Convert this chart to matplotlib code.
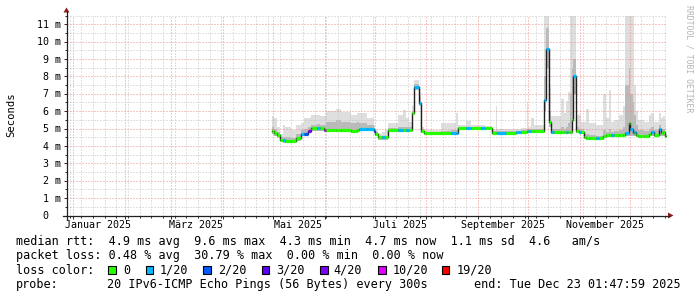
import numpy as np
import pandas as pd
import matplotlib
matplotlib.use("Agg")
import matplotlib.pyplot as plt
import matplotlib.dates as mdates
import matplotlib.transforms as mtrans
from matplotlib.ticker import MultipleLocator
from matplotlib.patches import Rectangle, Polygon
from matplotlib.lines import Line2D

# ---------------- data ----------------
dates = [
    "2025-04-30 10:00", "2025-05-01 19:00", "2025-05-03 10:00", "2025-05-05 10:00",
    "2025-05-06 19:00", "2025-05-08 10:00", "2025-05-11 19:00", "2025-05-14 19:00",
    "2025-05-17 19:00", "2025-05-19 14:00", "2025-05-21 19:00", "2025-05-23 19:00",
    "2025-05-24 02:00", "2025-05-24 14:00", "2025-05-27 10:00", "2025-05-29 05:00",
    "2025-05-31 19:00", "2025-06-01 19:00", "2025-06-07 19:00", "2025-06-10 19:00",
    "2025-06-16 19:00", "2025-06-20 10:00", "2025-06-21 19:00", "2025-06-26 10:00",
    "2025-06-30 19:00", "2025-07-01 10:00", "2025-07-02 19:00", "2025-07-05 10:00",
    "2025-07-07 05:00", "2025-07-09 05:00", "2025-07-15 00:00", "2025-07-18 00:00",
    "2025-07-19 19:00", "2025-07-21 14:00", "2025-07-23 05:00", "2025-07-24 10:00",
    "2025-07-27 19:00", "2025-07-28 19:00", "2025-07-30 14:00", "2025-08-09 19:00",
    "2025-08-15 19:00", "2025-08-18 19:00", "2025-08-20 05:00", "2025-08-24 19:00",
    "2025-08-27 19:00", "2025-09-02 19:00", "2025-09-05 05:00", "2025-09-09 05:00",
    "2025-09-11 12:00", "2025-09-12 10:00", "2025-09-17 19:00", "2025-09-23 19:00",
    "2025-09-26 19:00", "2025-09-30 10:00", "2025-10-01 00:00", "2025-10-02 19:00",
    "2025-10-04 14:00", "2025-10-10 10:00", "2025-10-11 19:00", "2025-10-13 19:00",
    "2025-10-14 19:00", "2025-10-16 14:00", "2025-10-20 19:00", "2025-10-22 14:00",
    "2025-10-23 19:00", "2025-10-25 00:00", "2025-10-25 22:00", "2025-10-27 10:00",
    "2025-10-28 05:00", "2025-10-29 19:00", "2025-10-31 14:00", "2025-11-01 19:00",
    "2025-11-03 10:00", "2025-11-04 19:00", "2025-11-06 14:00", "2025-11-10 19:00",
    "2025-11-12 14:00", "2025-11-14 19:00", "2025-11-16 19:00", "2025-11-18 07:00",
    "2025-11-19 19:00", "2025-11-21 14:00", "2025-11-24 14:00", "2025-11-27 00:00",
    "2025-11-28 05:00", "2025-11-30 10:00", "2025-12-01 10:00", "2025-12-02 19:00",
    "2025-12-03 19:00", "2025-12-04 19:00", "2025-12-06 00:00", "2025-12-09 14:00",
    "2025-12-12 19:00", "2025-12-13 19:00", "2025-12-15 10:00", "2025-12-18 19:00",
    "2025-12-19 19:00", "2025-12-20 19:00", "2025-12-22 05:00", "2025-12-23 01:47",
]
median_ms = [
    4.86, 4.76, 4.63, 4.34, 4.32, 4.30, 4.30, 4.47, 4.69, 4.69, 4.88, 5.01,
    5.01, 5.01, 5.01, 5.01, 4.90, 4.92, 4.92, 4.92, 4.88, 4.92, 5.00, 5.00,
    4.88, 4.70, 4.50, 4.50, 4.50, 4.90, 4.92, 4.92, 4.92, 4.92, 5.91, 7.37,
    6.49, 4.85, 4.73, 4.73, 4.73, 4.73, 5.01, 5.01, 5.01, 5.01, 5.01, 4.76,
    4.76, 4.76, 4.76, 4.80, 4.80, 4.85, 4.85, 4.88, 4.88, 6.64, 9.57, 5.39,
    4.78, 4.78, 4.78, 4.78, 4.78, 4.78, 4.78, 5.47, 8.02, 4.88, 4.82, 4.82,
    4.53, 4.47, 4.47, 4.47, 4.47, 4.60, 4.65, 4.65, 4.63, 4.63, 4.63, 4.63,
    4.73, 5.34, 5.00, 4.76, 4.82, 4.65, 4.60, 4.60, 4.70, 4.82, 4.65, 5.00,
    4.73, 4.82, 4.60, 4.60,
]
# lost pings out of 20 for each step
loss = [
    0, 0, 0, 0, 1, 0, 0, 0, 1, 2, 4, 0,
    0, 0, 1, 0, 10, 0, 0, 0, 0, 0, 1, 1,
    2, 0, 0, 1, 0, 0, 1, 0, 1, 0, 0, 1,
    1, 0, 0, 0, 1, 1, 0, 1, 0, 1, 0, 0,
    0, 1, 0, 1, 0, 0, 1, 0, 0, 1, 1, 0,
    1, 0, 0, 0, 1, 0, 0, 0, 1, 0, 1, 0,
    0, 0, 0, 1, 0, 0, 0, 0, 1, 0, 0, 0,
    1, 0, 1, 0, 1, 0, 0, 0, 0, 1, 0, 1,
    0, 0, 0, 0,
]
smoke_max = [
    5.75, 5.60, 5.10, 4.70, 5.20, 5.10, 4.90, 5.20, 5.30, 5.60, 5.60, 5.80,
    9.33, 5.80, 5.80, 5.75, 5.75, 6.00, 6.15, 5.95, 5.80, 5.90, 5.90, 5.60,
    5.20, 4.90, 4.70, 4.80, 4.90, 5.30, 5.80, 6.05, 5.60, 5.40, 6.30, 7.80,
    7.10, 5.10, 4.90, 5.30, 5.30, 5.90, 5.20, 5.45, 5.20, 5.20, 5.15, 4.95,
    6.30, 4.95, 4.95, 5.00, 5.05, 6.50, 5.10, 5.60, 5.20, 11.6, 11.6, 7.40,
    5.70, 5.70, 6.70, 5.90, 6.60, 7.10, 11.6, 11.6, 11.6, 5.80, 5.80, 5.40,
    5.40, 6.10, 5.30, 5.20, 5.20, 7.00, 5.60, 7.20, 5.40, 5.50, 5.80, 6.30,
    11.6, 11.6, 11.6, 11.6, 7.50, 6.00, 5.50, 5.40, 5.80, 5.90, 5.40, 5.90,
    5.60, 5.70, 5.40, 5.40,
]
smoke_mid = [
    5.10, 5.00, 4.80, 4.50, 4.50, 4.50, 4.45, 4.70, 4.90, 5.00, 5.10, 5.20,
    5.20, 5.20, 5.25, 5.20, 5.20, 5.40, 5.50, 5.40, 5.30, 5.35, 5.30, 5.20,
    5.00, 4.80, 4.60, 4.60, 4.60, 5.05, 5.10, 5.10, 5.10, 5.10, 6.00, 7.55,
    6.80, 4.95, 4.80, 4.85, 4.90, 4.90, 5.10, 5.10, 5.10, 5.10, 5.08, 4.85,
    4.90, 4.85, 4.85, 4.88, 4.90, 4.95, 4.95, 5.00, 5.00, 8.00, 10.8, 6.00,
    5.00, 5.00, 5.10, 5.00, 5.10, 5.30, 7.00, 8.50, 9.00, 5.10, 5.00, 5.00,
    4.70, 4.70, 4.65, 4.60, 4.60, 4.90, 4.80, 5.00, 4.80, 4.85, 4.90, 5.10,
    7.50, 8.50, 7.00, 6.50, 5.80, 5.20, 4.90, 4.85, 5.00, 5.10, 4.90, 5.20,
    5.00, 5.00, 4.80, 4.80,
]
smoke_min = [
    4.70, 4.60, 4.45, 4.20, 4.18, 4.17, 4.17, 4.30, 4.55, 4.55, 4.75, 4.88,
    4.88, 4.88, 4.88, 4.88, 4.78, 4.80, 4.80, 4.80, 4.76, 4.80, 4.88, 4.88,
    4.76, 4.58, 4.36, 4.36, 4.36, 4.78, 4.80, 4.80, 4.80, 4.80, 5.80, 7.20,
    6.30, 4.72, 4.62, 4.62, 4.62, 4.62, 4.90, 4.90, 4.90, 4.90, 4.90, 4.66,
    4.66, 4.66, 4.66, 4.70, 4.70, 4.74, 4.74, 4.76, 4.76, 6.00, 8.50, 5.10,
    4.66, 4.66, 4.66, 4.66, 4.66, 4.66, 4.66, 5.20, 7.00, 4.76, 4.70, 4.70,
    4.42, 4.36, 4.36, 4.36, 4.36, 4.48, 4.52, 4.52, 4.50, 4.50, 4.50, 4.50,
    4.55, 4.60, 4.55, 4.55, 4.55, 4.52, 4.48, 4.48, 4.55, 4.60, 4.50, 4.60,
    4.55, 4.60, 4.50, 4.50,
]

loss_levels = [0, 1, 2, 3, 4, 10, 19]
loss_labels = ["0", "1/20", "2/20", "3/20", "4/20", "10/20", "19/20"]
loss_colors = ["#26ff00", "#00b8ff", "#0059ff", "#5e00ff", "#7e00ff", "#dd00ff", "#ff0000"]

ytick_values = [0, 1, 2, 3, 4, 5, 6, 7, 8, 9, 10, 11]
ytick_labels = ["0", "1 m", "2 m", "3 m", "4 m", "5 m", "6 m", "7 m", "8 m", "9 m", "10 m", "11 m"]
xlabel_dates = ["2025-01-16", "2025-03-16", "2025-05-16", "2025-07-16", "2025-09-16", "2025-11-16"]
xlabel_texts = ["Januar 2025", "März 2025", "Mai 2025", "Juli 2025", "September 2025", "November 2025"]

x_start = "2024-12-28 01:47:59"
x_end = "2025-12-23 01:47:59"
y_max = 11.5

row_rtt = "median rtt:  4.9 ms avg  9.6 ms max  4.3 ms min  4.7 ms now  1.1 ms sd  4.6   am/s"
row_loss = "packet loss: 0.48 % avg  30.79 % max  0.00 % min  0.00 % now"
probe_label = "probe:"
probe_text = "20 IPv6-ICMP Echo Pings (56 Bytes) every 300s"
end_text = "end: Tue Dec 23 01:47:59 2025"

# ---------------- figure ----------------
W, H = 697, 297
MONO = "DejaVu Sans Mono"
plt.rcParams["font.family"] = MONO

fig = plt.figure(figsize=(W / 100, H / 100), dpi=100)
fig.patch.set_facecolor("white")

AX_L, AX_B, AX_W, AX_H = 66.5, 215.5, 600.0, 200.0
ax = fig.add_axes([AX_L / W, (H - AX_B) / H, AX_W / W, AX_H / H])
ax.set_facecolor("white")


def fx(px):
    return px / W


def fy(py):
    return 1 - py / H


t = mdates.date2num(pd.to_datetime(dates).to_pydatetime())
med = np.array(median_ms)
color_of = dict(zip(loss_levels, loss_colors))

# smoke
ax.fill_between(t, smoke_min, smoke_max, step="post", color="#dedede", lw=0, zorder=1)
ax.fill_between(t, smoke_min, smoke_mid, step="post", color="#bababa", lw=0, zorder=1.1)

# median line
ax.plot(t, med, drawstyle="steps-post", color="#202020", lw=1.0, zorder=4)
ax.hlines(med[:-1], t[:-1], t[1:], colors=[color_of[l] for l in loss[:-1]],
          lw=2.3, zorder=5, capstyle="butt")

ax.set_xlim(mdates.date2num(pd.Timestamp(x_start)), mdates.date2num(pd.Timestamp(x_end)))
ax.set_ylim(0, y_max)
ax.xaxis_date()

ax.xaxis.set_major_locator(mdates.MonthLocator())
ax.xaxis.set_minor_locator(mdates.WeekdayLocator(byweekday=mdates.MO))
ax.yaxis.set_major_locator(MultipleLocator(1))
ax.yaxis.set_minor_locator(MultipleLocator(0.5))
ax.set_axisbelow("line")
ax.grid(which="minor", color="#c4c4c4", ls=(0, (1, 2)), lw=0.72)
ax.grid(which="major", color="#ec9090", ls=(0, (1, 2)), lw=0.72)
ax.tick_params(which="both", labelbottom=False, labelleft=False, direction="out",
               color="#303030", width=0.72)
ax.tick_params(which="major", length=2.4)
ax.tick_params(which="minor", length=1.4)
for s in ax.spines.values():
    s.set_visible(False)

# axis lines with arrows
axis_col = "#202020"
arrow_col = "#8b1c1c"
fig.add_artist(Line2D([fx(AX_L), fx(AX_L)], [fy(AX_B + 3), fy(12)], color=axis_col, lw=0.9))
fig.add_artist(Line2D([fx(AX_L - 3.5), fx(669)], [fy(AX_B), fy(AX_B)], color=axis_col, lw=0.9))
fig.add_artist(Polygon([[fx(AX_L - 3), fy(12.5)], [fx(AX_L + 3), fy(12.5)], [fx(AX_L), fy(7.5)]],
                       closed=True, transform=fig.transFigure, color=arrow_col, lw=0))
fig.add_artist(Polygon([[fx(668), fy(AX_B - 3)], [fx(668), fy(AX_B + 3)], [fx(673.5), fy(AX_B)]],
                       closed=True, transform=fig.transFigure, color=arrow_col, lw=0))

# y tick labels
tick_fs = 7.2
ytrans = mtrans.blended_transform_factory(fig.transFigure, ax.transData) + \
    mtrans.ScaledTranslation(0, -3.6 / 100, fig.dpi_scale_trans)
for v, lab in zip(ytick_values, ytick_labels):
    xr = 60.5 if " " in lab else 60.5 - 2 * 6.05
    ax.text(fx(xr), v, lab, transform=ytrans, ha="right", va="baseline",
            fontsize=tick_fs, color="black")

# x tick labels
xtrans = mtrans.blended_transform_factory(ax.transData, ax.transAxes) + \
    mtrans.ScaledTranslation(0, -13 / 100, fig.dpi_scale_trans)
for d, lab in zip(xlabel_dates, xlabel_texts):
    ax.text(mdates.date2num(pd.Timestamp(d)), 0, lab, transform=xtrans, ha="center",
            va="baseline", fontsize=tick_fs, color="black")

fig.text(fx(11.5), fy(115), "Seconds", rotation=90, ha="center", va="center",
         fontsize=7.6, color="black")
fig.text(fx(689), fy(59), "RRDTOOL / TOBI OETIKER", rotation=270, ha="center",
         va="center", fontsize=5.9, color="#b4b4b4")

# legend
lfs = 8.45
fig.text(fx(16), fy(245), row_rtt, ha="left", va="baseline", fontsize=lfs)
fig.text(fx(16), fy(259.3), row_loss, ha="left", va="baseline", fontsize=lfs)
fig.text(fx(16), fy(273.7), "loss color:", ha="left", va="baseline", fontsize=lfs)
sq_x = [108.0, 145.7, 203.0, 261.7, 320.0, 378.3, 441.7]
lab_x = [122.8, 159.5, 217.8, 276.2, 333.5, 392.2, 456.2]
for sx, lx, c, lab in zip(sq_x, lab_x, loss_colors, loss_labels):
    fig.add_artist(Rectangle((fx(sx), fy(273.5)), 7.5 / W, 7.5 / H, transform=fig.transFigure,
                             facecolor=c, edgecolor="black", lw=0.8))
    fig.text(fx(lx), fy(273.7), lab, ha="left", va="baseline", fontsize=lfs)
fig.text(fx(16), fy(288), probe_label, ha="left", va="baseline", fontsize=lfs)
fig.text(fx(107.2), fy(288), probe_text, ha="left", va="baseline", fontsize=lfs)
fig.text(fx(681), fy(288), end_text, ha="right", va="baseline", fontsize=lfs)

fig.savefig("out.png", dpi=100, facecolor="white")
